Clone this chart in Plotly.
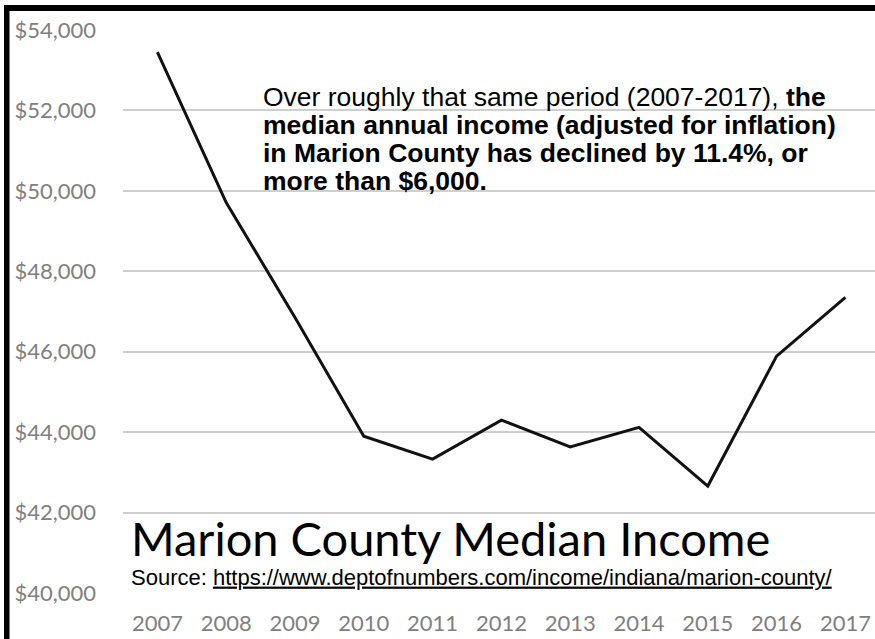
import plotly.graph_objects as go

years = [2007, 2008, 2009, 2010, 2011, 2012, 2013, 2014, 2015, 2016, 2017]
income = [53450, 49710, 46850, 43900, 43330, 44300, 43630, 44120, 42660, 45890, 47350]
ytick_vals = [40000, 42000, 44000, 46000, 48000, 50000, 52000, 54000]
ytick_text = ["$40,000", "$42,000", "$44,000", "$46,000", "$48,000", "$50,000", "$52,000", "$54,000"]

para_lines = [
    "Over roughly that same period (2007-2017), <b>the</b>",
    "<b>median annual income (adjusted for inflation)</b>",
    "<b>in Marion County has declined by 11.4%, or</b>",
    "<b>more than $6,000.</b>",
]
title_text = "Marion County Median Income"
source_text = "Source: <u>https://www.deptofnumbers.com/income/indiana/marion-county/</u>"

W, H = 875, 639
ML, MR, MT, MB = 123, 0, 30, 46
PW, PH = W - ML - MR, H - MT - MB


def px(x):
    return (x - ML) / PW


def py(y):
    return (H - MB - y) / PH


fig = go.Figure()
fig.add_trace(go.Scatter(x=years, y=income, mode="lines",
                         line=dict(color="#111111", width=3), hoverinfo="skip"))

calib = "Lato, Carlito, sans-serif"
fig.update_layout(
    width=W, height=H, margin=dict(l=ML, r=MR, t=MT, b=MB),
    paper_bgcolor="white", plot_bgcolor="white", showlegend=False,
    xaxis=dict(range=[2006.5, 2006.5 + PW / 68.8], tickvals=years,
               ticktext=[str(y) for y in years], showgrid=False, zeroline=False,
               showline=False, ticks="", ticklabelstandoff=15,
               tickfont=dict(family=calib, size=22, color="#808080")),
    yaxis=dict(range=[40000, 54000], tickvals=ytick_vals, ticktext=ytick_text,
               showgrid=True, gridcolor="#cfcfcf", gridwidth=1.6, zeroline=False,
               showline=False, ticks="", ticklabelstandoff=26,
               tickfont=dict(family=calib, size=22, color="#808080")),
)

arial = "Liberation Sans, Arial, sans-serif"
centers = [97, 125, 153, 181]
for t, c in zip(para_lines, centers):
    fig.add_annotation(xref="paper", yref="paper", x=px(261), y=py(c), text=t,
                       showarrow=False, xanchor="left", yanchor="middle",
                       font=dict(family=arial, size=26.5, color="black"))

caption = ('<span style="font-family:Lato, sans-serif;font-size:47px">' + title_text +
           '</span><br>' + source_text)
fig.add_annotation(xref="paper", yref="paper", x=px(129), y=py(592), text=caption,
                   showarrow=False, xanchor="left", yanchor="bottom", align="left",
                   font=dict(family=arial, size=22, color="black"))

# black frame (top and left edges)
fig.add_shape(type="rect", xref="paper", yref="paper", x0=px(4), x1=px(875),
              y0=py(5), y1=py(11), fillcolor="black", line=dict(width=0), layer="above")
fig.add_shape(type="rect", xref="paper", yref="paper", x0=px(4), x1=px(9.5),
              y0=py(5), y1=py(639), fillcolor="black", line=dict(width=0), layer="above")

fig.write_html("out.html")
